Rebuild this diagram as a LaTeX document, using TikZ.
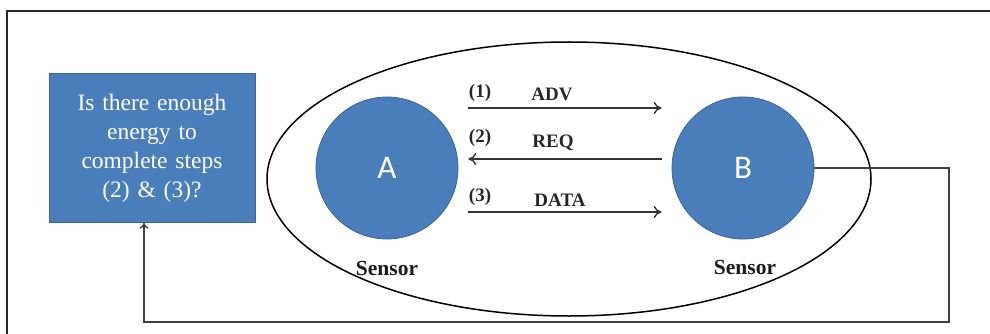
\documentclass[tikz,border=0pt]{standalone}
\usepackage{fontspec}
\setmainfont{Liberation Serif}
\newfontfamily\calib{Carlito}
\usetikzlibrary{arrows.meta,shapes.geometric}
\definecolor{nodeblue}{RGB}{74,126,187}
\definecolor{nodeedge}{RGB}{58,98,150}
\begin{document}
\begin{tikzpicture}[x=1pt,y=-1pt,
  sensor/.style={circle, fill=nodeblue, draw=nodeedge, line width=0.8pt, minimum size=142pt, inner sep=0pt, text=white, font=\calib\fontsize{33}{33}\selectfont},
  qbox/.style={rectangle, fill=nodeblue, draw=nodeedge, line width=0.6pt, minimum width=206pt, minimum height=149pt, inner sep=0pt, text=white, align=center, text width=204pt, font=\fontsize{23.5}{29}\selectfont},
  msg/.style={draw=black!80, line width=1.4pt, -{To[length=8pt,width=12pt]}},
  lbl/.style={font=\bfseries\fontsize{19}{19}\selectfont, text=black!85, inner sep=0pt},
  slbl/.style={font=\bfseries\fontsize{21.5}{21.5}\selectfont, text=black!90, inner sep=0pt},
  fb/.style={draw=black!75, line width=1.3pt},
  frame/.style={draw=black!85, line width=2pt}
]
\useasboundingbox (0,0) rectangle (990,334);
\draw[frame] (7,334) -- (7,11) -- (990,11);

\node (grp) [draw, ellipse, line width=1.5pt, minimum width=604pt, minimum height=274pt, inner sep=0pt] at (569,179) {};

\node (Q) [qbox] at (152,148) {Is there enough\\energy to\\complete steps\\(2) \& (3)?};

\node (A) [sensor] at (387,168) {A};
\node (B) [sensor] at (743,168) {B};

\draw[msg] ([shift={(10,-60)}]A.east) -- ([shift={(-10,-60)}]B.west);
\draw[msg] ([shift={(-10,-9)}]B.west) -- ([shift={(10,-9)}]A.east);
\draw[msg] ([shift={(10,44)}]A.east) -- ([shift={(-10,44)}]B.west);

\node (n1) [lbl] at (480,93) {(1)};
\node (l1) [lbl] at (552,94) {ADV};
\node (n2) [lbl] at (480,138) {(2)};
\node (l2) [lbl] at (553,143) {REQ};
\node (n3) [lbl] at (480,197) {(3)};
\node (l3) [lbl] at (560,200) {DATA};

\node (sA) [slbl] at (387,268) {Sensor};
\node (sB) [slbl] at (745,267) {Sensor};

\coordinate (c1) at (949,168);
\coordinate (c2) at (949,322);
\coordinate (c3) at (144,322);
\draw[fb, -{To[length=6pt,width=9pt]}] (B.east) -- (c1) -- (c2) -- (c3) -- (c3 |- Q.south);
\end{tikzpicture}
\end{document}
